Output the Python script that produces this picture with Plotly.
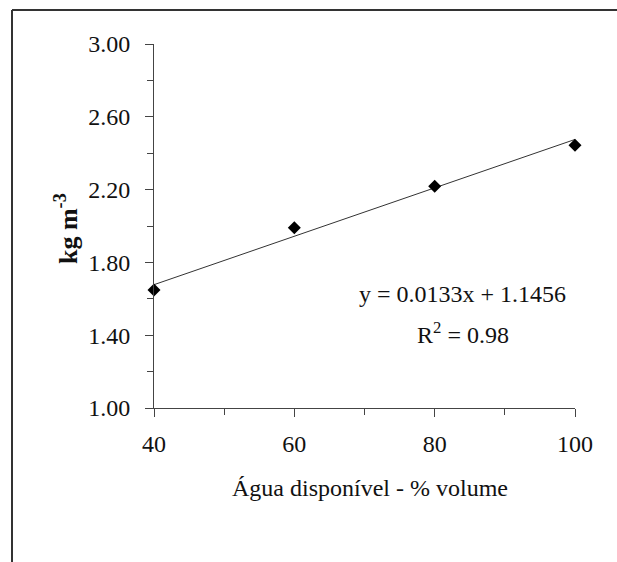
import plotly.graph_objects as go

# Data
water_pct = [40, 60, 80, 100]
density = [1.648, 1.99, 2.218, 2.444]
trend_x = [40, 100]
trend_y = [1.6776, 2.4756]
eq_text = "y = 0.0133x + 1.1456"
r2_text = "R<sup>2</sup> = 0.98"
x_title = "Água disponível - % volume"
y_title = "kg m<sup>-3</sup>"

W, H = 617, 562
L, R, T, B = 154, 42, 44, 154
pw, ph = W - L - R, H - T - B

def px(xp):
    return (xp - L) / pw

def py(yp):
    return (H - B - yp) / ph

FONT = "Liberation Serif, Times New Roman, serif"
AX = "#444444"

fig = go.Figure()
fig.add_trace(go.Scatter(x=trend_x, y=trend_y, mode="lines",
                         line=dict(color="#333333", width=1), cliponaxis=False,
                         showlegend=False, hoverinfo="skip"))
fig.add_trace(go.Scatter(x=water_pct, y=density, mode="markers",
                         marker=dict(symbol="diamond", size=10, color="black"),
                         cliponaxis=False, showlegend=False))

frame = dict(color="#333333", width=2)
fig.update_layout(
    width=W, height=H,
    margin=dict(l=L, r=R, t=T, b=B, pad=0),
    paper_bgcolor="white", plot_bgcolor="white",
    font=dict(family=FONT, size=24, color="#111111"),
    xaxis=dict(range=[40, 100], tick0=40, dtick=20, ticks="outside", ticklen=8,
               tickcolor=AX, tickwidth=1, showline=True, linecolor=AX, linewidth=1,
               showgrid=False, zeroline=False, ticklabelstandoff=6,
               tickfont=dict(size=24),
               minor=dict(dtick=10, tick0=40, ticks="outside", ticklen=6, tickcolor=AX)),
    yaxis=dict(range=[1, 3], tick0=1, dtick=0.4, tickformat=".2f", ticks="outside",
               ticklen=8, tickcolor=AX, tickwidth=1, showline=True, linecolor=AX,
               linewidth=1, showgrid=False, zeroline=False, ticklabelstandoff=10,
               tickfont=dict(size=24),
               minor=dict(dtick=0.2, tick0=1, ticks="outside", ticklen=6, tickcolor=AX)),
    annotations=[
        dict(text=x_title, xref="paper", yref="paper", x=px(370), y=py(488),
             xanchor="center", yanchor="middle", showarrow=False,
             font=dict(size=24)),
        dict(text=y_title, xref="paper", yref="paper", x=px(66), y=py(229),
             xanchor="center", yanchor="middle", showarrow=False, textangle=-90,
             font=dict(size=26, family="Liberation Serif", weight="bold")),
        dict(text=eq_text, xref="paper", yref="paper", x=px(462), y=py(294),
             xanchor="center", yanchor="middle", showarrow=False,
             font=dict(size=24)),
        dict(text=r2_text, xref="paper", yref="paper", x=px(463), y=py(333),
             xanchor="center", yanchor="middle", showarrow=False,
             font=dict(size=24)),
    ],
    shapes=[
        dict(type="line", xref="paper", yref="paper",
             x0=px(12), x1=px(617), y0=py(10), y1=py(10), line=frame, layer="below"),
        dict(type="line", xref="paper", yref="paper",
             x0=px(12), x1=px(12), y0=py(10), y1=py(562), line=frame, layer="below"),
    ],
)

fig.write_html("out.html")
